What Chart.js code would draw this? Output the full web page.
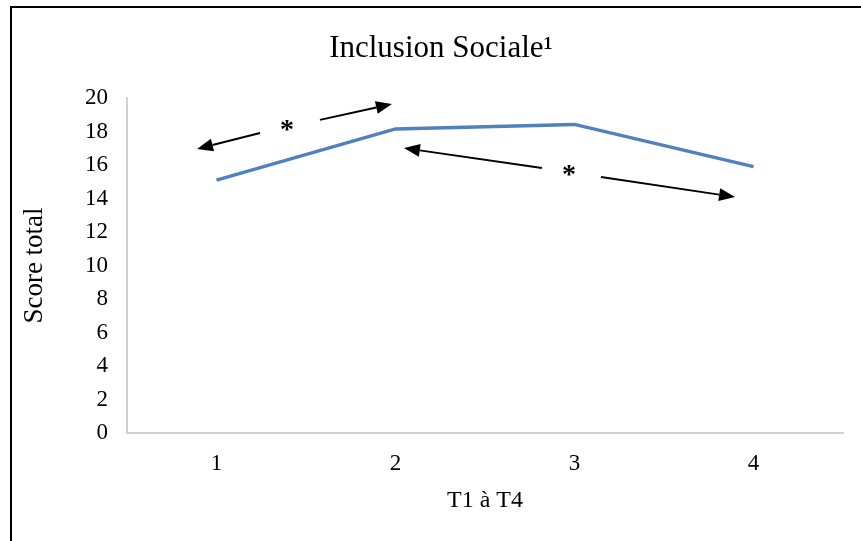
<!DOCTYPE html>
<html>
<head>
<meta charset="utf-8">
<script src="https://cdn.jsdelivr.net/npm/chart.js@4/dist/chart.umd.min.js"></script>
<style>
  html, body { margin: 0; padding: 0; background: #ffffff; }
  #wrap { position: relative; width: 861px; height: 541px; overflow: hidden; }
  #frame { position: absolute; left: 10px; top: 6px; width: 900px; height: 600px;
           border-left: 2px solid #000; border-top: 2px solid #000; box-sizing: border-box; }
  canvas { position: absolute; left: 0; top: 0; }
</style>
</head>
<body>
<div id="wrap">
  <div id="frame"></div>
  <canvas id="c" width="861" height="541"></canvas>
</div>
<script>
// ---- data ----
const chartTitle = "Inclusion Sociale\u00B9";
const categories = ["1", "2", "3", "4"];
const scores = [15.1, 18.15, 18.42, 15.9];
const yTitle = "Score total";
const xTitle = "T1 \u00E0 T4";
const yMin = 0;
const yMax = 20;
const yStep = 2;
// significance annotations in data units: [categoryIndex, value]
const arrowTails = [[0.243, 17.91], [0.578, 18.69], [1.818, 15.82], [2.148, 15.28]];
const arrowHeads = [[-0.109, 16.96], [0.980, 19.64], [1.047, 17.01], [2.897, 14.09]];
const starLabels = ["*", "*"];
const starPositions = [[0.394, 18.27], [1.969, 15.58]];

const FONT = "'Liberation Serif', 'Times New Roman', serif";

const annotationPlugin = {
  id: 'annot',
  afterDatasetsDraw(chart) {
    const ctx = chart.ctx;
    const xs = chart.scales.x, ys = chart.scales.y;
    ctx.save();
    // arrows
    ctx.strokeStyle = '#000';
    ctx.fillStyle = '#000';
    ctx.lineWidth = 1.9;
    for (let i = 0; i < arrowTails.length; i++) {
      const x0 = xs.getPixelForValue(arrowTails[i][0]);
      const y0 = ys.getPixelForValue(arrowTails[i][1]);
      const x1 = xs.getPixelForValue(arrowHeads[i][0]);
      const y1 = ys.getPixelForValue(arrowHeads[i][1]);
      const ang = Math.atan2(y1 - y0, x1 - x0);
      const hl = 16, hw = 6.5;
      const bx = x1 - hl * Math.cos(ang), by = y1 - hl * Math.sin(ang);
      ctx.beginPath();
      ctx.moveTo(x0, y0);
      ctx.lineTo(bx, by);
      ctx.stroke();
      ctx.beginPath();
      ctx.moveTo(x1, y1);
      ctx.lineTo(bx + hw * Math.sin(ang), by - hw * Math.cos(ang));
      ctx.lineTo(bx - hw * Math.sin(ang), by + hw * Math.cos(ang));
      ctx.closePath();
      ctx.fill();
    }
    // stars
    ctx.font = "bold 28px " + FONT;
    ctx.textAlign = 'center';
    ctx.textBaseline = 'alphabetic';
    for (let i = 0; i < starLabels.length; i++) {
      const x = xs.getPixelForValue(starPositions[i][0]);
      const y = ys.getPixelForValue(starPositions[i][1]);
      ctx.fillText(starLabels[i], x, y + 11);
    }
    // title
    ctx.font = "31px " + FONT;
    ctx.textAlign = 'center';
    ctx.textBaseline = 'alphabetic';
    ctx.fillText(chartTitle, 441, 57);
    ctx.restore();
  }
};

new Chart(document.getElementById('c'), {
  type: 'line',
  data: {
    labels: categories,
    datasets: [{
      data: scores,
      borderColor: '#4F81BD',
      borderWidth: 3.4,
      pointRadius: 0,
      pointHoverRadius: 0,
      tension: 0,
      fill: false
    }]
  },
  options: {
    responsive: false,
    animation: false,
    events: [],
    layout: { padding: { left: 0, right: 18, top: 98, bottom: 0 } },
    plugins: {
      legend: { display: false },
      tooltip: { enabled: false },
      title: { display: false }
    },
    scales: {
      x: {
        type: 'category',
        offset: true,
        grid: { display: false, drawTicks: false },
        border: { display: true, color: '#d0d0d0', width: 2 },
        ticks: { color: '#000', font: { family: FONT, size: 23 }, padding: 17 },
        title: { display: true, text: xTitle, color: '#000',
                 font: { family: FONT, size: 24 }, padding: { top: 0, bottom: 26 } },
        afterFit(scale) { scale.height = 108; }
      },
      y: {
        min: yMin, max: yMax,
        grid: { display: false, drawTicks: false },
        border: { display: true, color: '#d0d0d0', width: 2 },
        ticks: { stepSize: yStep, color: '#000', font: { family: FONT, size: 23 }, padding: 19 },
        title: { display: true, text: yTitle, color: '#000',
                 font: { family: FONT, size: 27 }, padding: { top: 19, bottom: 0 } },
        afterFit(scale) { scale.width = 127; }
      }
    }
  },
  plugins: [annotationPlugin]
});
</script>
</body>
</html>
